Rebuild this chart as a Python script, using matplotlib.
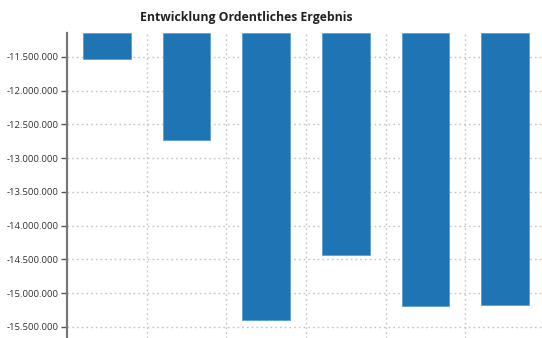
import numpy as np
import matplotlib.pyplot as plt
from matplotlib.ticker import FuncFormatter, FixedLocator

# Ordentliches Ergebnis je Jahr (in EUR)
categories = ["1", "2", "3", "4", "5", "6"]
values = [-11530000, -12730000, -15400000, -14440000, -15190000, -15175000]
yticks = [-11500000, -12000000, -12500000, -13000000, -13500000,
          -14000000, -14500000, -15000000, -15500000]

y_top = -11140000
y_bottom = -15665000

plt.rcParams['font.family'] = ['Open Sans', 'DejaVu Sans']

fig = plt.figure(figsize=(5.42, 3.38), dpi=100)
ax = fig.add_axes([67 / 542, 0.0, 478 / 542, 1 - 32.7 / 338])

x = np.arange(len(categories))
vals = np.array(values)
ax.bar(x, vals - y_top, bottom=y_top, width=0.6, color='#1f74b3',
       edgecolor='#5a9fd4', linewidth=0.6, zorder=3)

ax.set_xlim(-0.5, len(categories) - 0.5)
ax.set_ylim(y_bottom, y_top)

ax.set_yticks(yticks)
ax.yaxis.set_major_formatter(FuncFormatter(lambda v, p: f"{int(v):,}".replace(",", ".")))
ax.tick_params(axis='y', length=4, width=1, color='#555555', labelsize=6.8,
               labelcolor='#333333', pad=2)

ax.set_xticks([])
ax.xaxis.set_minor_locator(FixedLocator(x[:-1] + 0.5))
ax.tick_params(axis='x', which='minor', length=0)
ax.grid(axis='y', which='major', color='#c4c4c4', linestyle=(0, (1.2, 2.2)), linewidth=1, zorder=0)
ax.grid(axis='x', which='minor', color='#c4c4c4', linestyle=(0, (1.2, 2.2)), linewidth=1, zorder=0)

for s in ['top', 'right', 'bottom']:
    ax.spines[s].set_visible(False)
ax.spines['left'].set_color('#777777')
ax.spines['left'].set_linewidth(1.6)

fig.text(246 / 542, 1 - 17 / 338, "Entwicklung Ordentliches Ergebnis", ha='center', va='center',
         fontsize=8.8, fontweight='bold', color='#222222')

fig.savefig('out.png', dpi=100)
